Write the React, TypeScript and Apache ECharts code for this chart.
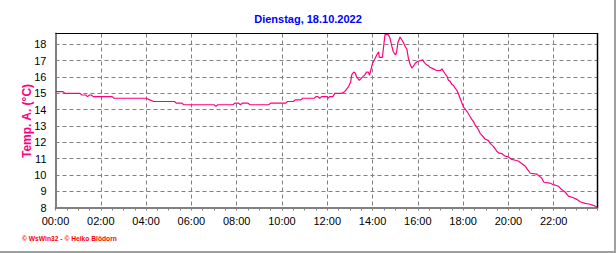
import React, { useEffect, useRef } from "react";
import * as echarts from "echarts";

const title = "Dienstag, 18.10.2022";
const yName = "Temp. A. (°C)";
const footer = "© WsWin32 - © Heiko Blödorn";

const times = [
  "00:00", "00:20", "00:25", "01:05", "01:10", "01:20", "01:25", "01:30", "01:35", "01:40",
  "02:30", "02:35", "04:00", "04:10", "04:20", "05:15", "05:20", "05:35", "05:40", "07:00",
  "07:05", "07:10", "07:50", "07:55", "08:05", "08:10", "08:15", "08:30", "08:35", "09:25",
  "09:30", "10:10", "10:15", "10:30", "10:35", "10:50", "10:55", "11:25", "11:30", "11:35",
  "11:40", "11:45", "12:00", "12:03", "12:06", "12:15", "12:20", "12:38", "12:46", "12:56",
  "13:02", "13:05", "13:10", "13:14", "13:18", "13:25", "13:31", "13:36", "13:40", "13:44",
  "13:49", "13:52", "13:55", "14:00", "14:07", "14:11", "14:16", "14:18", "14:26", "14:29",
  "14:33", "14:42", "14:46", "14:51", "14:55", "15:01", "15:04", "15:07", "15:13", "15:17",
  "15:22", "15:26", "15:31", "15:35", "15:40", "15:44", "15:48", "15:53", "15:59", "16:06",
  "16:13", "16:17", "16:23", "16:28", "16:32", "16:41", "16:50", "17:00", "17:04", "17:12",
  "17:17", "17:21", "17:25", "17:30", "17:34", "17:38", "17:43", "17:47", "17:52", "17:56",
  "18:01", "18:05", "18:10", "18:14", "18:19", "18:23", "18:28", "18:32", "18:37", "18:41",
  "18:45", "18:49", "18:58", "19:07", "19:11", "19:20", "19:25", "19:29", "19:34", "19:43",
  "19:51", "20:00", "20:09", "20:18", "20:26", "20:35", "20:44", "20:50", "20:58", "21:15",
  "21:28", "21:34", "21:50", "21:59", "22:13", "22:21", "22:30", "22:39", "22:52", "23:01",
  "23:10", "23:23", "23:36", "23:49", "23:54",
];

const temps = [
  15.1, 15.1, 15.0, 15.0, 14.9, 14.9, 14.8, 14.9, 14.9, 14.8,
  14.8, 14.7, 14.7, 14.6, 14.5, 14.5, 14.4, 14.4, 14.3, 14.3,
  14.2, 14.3, 14.3, 14.4, 14.4, 14.3, 14.4, 14.4, 14.3, 14.3,
  14.4, 14.4, 14.5, 14.5, 14.6, 14.6, 14.7, 14.7, 14.8, 14.8,
  14.7, 14.8, 14.8, 14.7, 14.8, 14.8, 15.0, 15.0, 15.1, 15.4,
  15.7, 16.15, 16.3, 16.25, 16.0, 15.8, 15.95, 16.05, 16.15, 16.3,
  16.3, 16.1, 16.4, 16.85, 17.15, 17.35, 17.55, 17.2, 17.2, 17.8,
  18.6, 18.6, 18.4, 17.9, 17.55, 17.35, 17.55, 18.1, 18.45, 18.3,
  18.1, 17.9, 17.7, 17.15, 16.75, 16.55, 16.65, 16.85, 16.95, 17.0,
  17.05, 16.9, 16.75, 16.7, 16.6, 16.5, 16.4, 16.4, 16.5, 16.2,
  16.05, 15.8, 15.75, 15.55, 15.5, 15.35, 15.2, 15.0, 14.7, 14.45,
  14.15, 14.05, 13.9, 13.75, 13.55, 13.4, 13.25, 13.05, 12.9, 12.75,
  12.55, 12.45, 12.2, 12.1, 11.95, 11.75, 11.6, 11.45, 11.35, 11.3,
  11.15, 11.1, 10.95, 10.9, 10.85, 10.7, 10.55, 10.35, 10.1, 10.05,
  9.8, 9.55, 9.5, 9.4, 9.3, 9.1, 8.95, 8.7, 8.6, 8.5,
  8.35, 8.25, 8.2, 8.1, 8.02,
];

const yTicks = [8, 9, 10, 11, 12, 13, 14, 15, 16, 17, 18];

const toMin = (s: string) => Number(s.slice(0, 2)) * 60 + Number(s.slice(3, 5));
const pad = (n: number) => (n < 10 ? "0" + n : String(n));

export default function App() {
  const ref = useRef<HTMLDivElement>(null);
  useEffect(() => {
    if (!ref.current) return;
    const chart = echarts.init(ref.current, undefined, { renderer: "svg" });
    const data = times.map((t, i) => [toMin(t), temps[i]]);
    const L = 55.5, R = 597.5, T = 33.5, B = 207.5;
    const font = "'Liberation Sans', Arial, sans-serif";
    chart.setOption({
      animation: false,
      backgroundColor: "#ffffff",
      grid: { left: L, right: 616 - R, top: T, bottom: 253 - B, containLabel: false },
      xAxis: {
        type: "value",
        min: 0,
        max: toMin(times[times.length - 1]) + 2,
        interval: 120,
        axisLine: { show: true, lineStyle: { color: "#808080", width: 2 } },
        axisTick: { show: true, length: 3, lineStyle: { color: "#808080", width: 1 } },
        minorTick: { show: true, splitNumber: 4, length: 3, lineStyle: { color: "#808080", width: 1 } },
        axisLabel: {
          showMaxLabel: false,
          margin: 8,
          color: "#000000",
          fontSize: 11,
          fontFamily: font,
          formatter: (v: number) => pad(Math.floor(v / 60)) + ":" + pad(v % 60),
        },
        splitLine: { show: true, lineStyle: { color: "#808080", type: [4, 3], width: 1 } },
      },
      yAxis: {
        type: "value",
        min: yTicks[0],
        max: 18.67,
        interval: 1,
        axisLine: { show: true, lineStyle: { color: "#808080", width: 2 } },
        axisTick: { show: false },
        axisLabel: {
          showMaxLabel: false,
          margin: 9,
          color: "#000000",
          fontSize: 11,
          fontFamily: font,
          formatter: (v: number) => (yTicks.includes(v) ? String(v) : ""),
        },
        splitLine: { show: true, lineStyle: { color: "#808080", type: [4, 3], width: 1 } },
      },
      series: [
        {
          type: "line",
          data,
          symbol: "none",
          lineStyle: { color: "#ff0080", width: 1.2 },
          z: 5,
        },
      ],
      graphic: [
        {
          type: "text",
          x: 308,
          y: 19,
          style: {
            text: title,
            fill: "#0000ff",
            font: `bold 11px ${font}`,
            align: "center",
            verticalAlign: "middle",
          },
        },
        {
          type: "text",
          x: 27,
          y: 121,
          rotation: Math.PI / 2,
          style: {
            text: yName,
            fill: "#ff0080",
            font: `bold 12px ${font}`,
            align: "center",
            verticalAlign: "middle",
          },
        },
        {
          type: "text",
          x: 22,
          y: 238,
          style: {
            text: footer,
            fill: "#ff0000",
            font: `bold 6.7px ${font}`,
            align: "left",
            verticalAlign: "middle",
          },
        },
        {
          type: "line",
          z: 100,
          shape: { x1: L, y1: T, x2: R, y2: T },
          style: { stroke: "#000000", lineWidth: 1 },
        },
        {
          type: "line",
          z: 100,
          shape: { x1: R, y1: T - 0.5, x2: R, y2: B },
          style: { stroke: "#000000", lineWidth: 1.5 },
        },
        {
          type: "line",
          z: 100,
          shape: { x1: 615, y1: 0, x2: 615, y2: 253 },
          style: { stroke: "#a0a0a0", lineWidth: 2 },
        },
        {
          type: "line",
          z: 100,
          shape: { x1: 0, y1: 252, x2: 616, y2: 252 },
          style: { stroke: "#a0a0a0", lineWidth: 2 },
        },
      ],
    });
    return () => chart.dispose();
  }, []);
  return (
    <div
      ref={ref}
      style={{ position: "fixed", left: 0, top: 0, width: 616, height: 253, background: "#fff" }}
    />
  );
}
